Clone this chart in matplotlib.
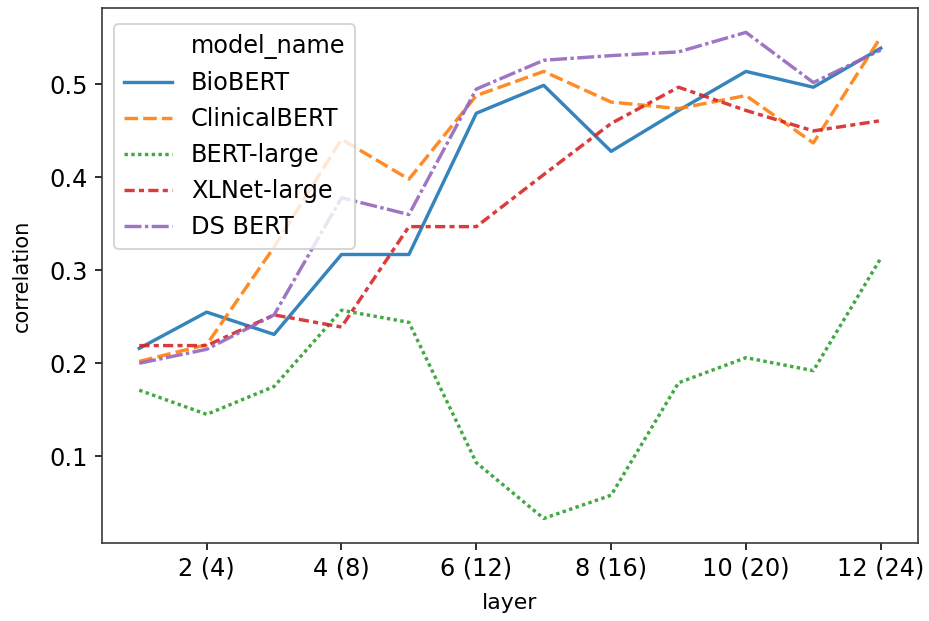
import numpy as np
import matplotlib.pyplot as plt
from matplotlib.lines import Line2D

layers = np.arange(1, 13)
tick_pos = [2, 4, 6, 8, 10, 12]
tick_labels = ["2 (4)", "4 (8)", "6 (12)", "8 (16)", "10 (20)", "12 (24)"]

model_names = ["BioBERT", "ClinicalBERT", "BERT-large", "XLNet-large", "DS BERT"]

biobert = [0.216, 0.255, 0.231, 0.317, 0.317, 0.469, 0.499, 0.428, 0.472, 0.514, 0.497, 0.539]
clinicalbert = [0.202, 0.220, 0.325, 0.441, 0.398, 0.488, 0.514, 0.481, 0.474, 0.488, 0.437, 0.551]
bert_large = [0.171, 0.145, 0.175, 0.257, 0.244, 0.093, 0.033, 0.058, 0.179, 0.206, 0.192, 0.313]
xlnet_large = [0.219, 0.219, 0.252, 0.239, 0.347, 0.347, 0.403, 0.458, 0.497, 0.472, 0.450, 0.461]
ds_bert = [0.200, 0.215, 0.252, 0.378, 0.360, 0.495, 0.526, 0.531, 0.535, 0.556, 0.502, 0.537]

series = [biobert, clinicalbert, bert_large, xlnet_large, ds_bert]

colors = ["#1f77b4", "#ff7f0e", "#2ca02c", "#d62728", "#9467bd"]
# seaborn-style dash patterns (in units of line width)
dash_styles = [None, (4, 1.5), (1, 1), (3, 1.25, 1.5, 1.25), (5, 1, 1, 1)]

plt.rcParams["font.size"] = 12

fig = plt.figure(figsize=(929 / 144, 621 / 144), dpi=144)
ax = fig.add_axes([0.110, 0.126, 0.878, 0.861])

handles = [Line2D([], [], linestyle="none", label="model_name")]
for name, vals, col, dash in zip(model_names, series, colors, dash_styles):
    line, = ax.plot(layers, vals, color=col, lw=1.7, alpha=0.9, label=name)
    if dash is not None:
        line.set_dashes(dash)
    handles.append(line)

ax.set_xticks(tick_pos)
ax.set_xticklabels(tick_labels)
ax.set_yticks([0.1, 0.2, 0.3, 0.4, 0.5])
ax.set_xlabel("layer", fontsize=11, labelpad=6)
ax.set_ylabel("correlation", fontsize=10.5, labelpad=9)
for sp in ax.spines.values():
    sp.set_color("#333333")
ax.legend(handles=handles, loc="upper left", bbox_to_anchor=(0, 0.992))

fig.savefig("out.png", dpi=144)
